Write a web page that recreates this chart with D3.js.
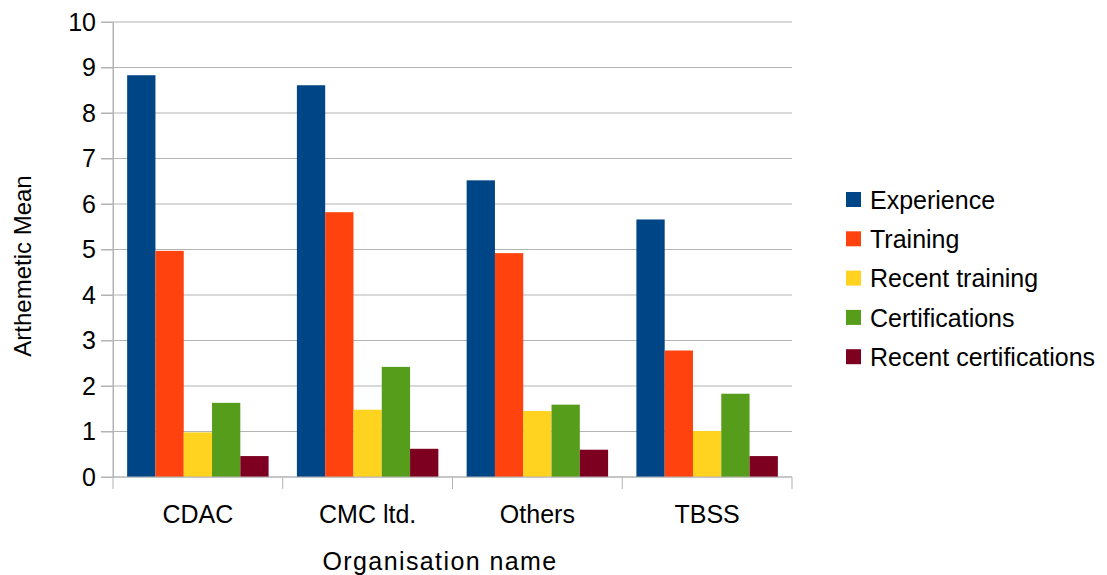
<!DOCTYPE html>
<html>
<head>
<meta charset="utf-8">
<script src="https://cdn.jsdelivr.net/npm/d3@7"></script>
<style>
  html, body { margin: 0; padding: 0; background: #fff; overflow: hidden; }
  svg { display: block; }
  text { font-family: "Liberation Sans", Arial, sans-serif; fill: #000; }
  .axis path, .axis line { stroke: #b3b3b3; }
  .grid line { stroke: #b3b3b3; }
</style>
</head>
<body>
<div id="chart"></div>
<script>
const width = 1107;
const height = 575;
const margin = { top: 22, right: 315, bottom: 98, left: 113 };
const innerWidth = width - margin.left - margin.right;
const innerHeight = height - margin.top - margin.bottom;

const organisations = ["CDAC", "CMC ltd.", "Others", "TBSS"];
const seriesNames = ["Experience", "Training", "Recent training", "Certifications", "Recent certifications"];
const seriesColors = ["#004586", "#ff420e", "#ffd320", "#579d1c", "#7e0021"];

const experience = [8.83, 8.61, 6.52, 5.66];
const training = [4.97, 5.82, 4.92, 2.78];
const recentTraining = [0.98, 1.48, 1.45, 1.01];
const certifications = [1.63, 2.42, 1.59, 1.83];
const recentCertifications = [0.46, 0.62, 0.60, 0.46];

const yTicks = d3.range(0, 11, 1);

const valuesBySeries = [experience, training, recentTraining, certifications, recentCertifications];
const data = organisations.map((org, i) => ({
  org,
  values: seriesNames.map((s, j) => ({ key: s, value: valuesBySeries[j][i] }))
}));

const svg = d3.select("#chart")
  .append("svg")
    .attr("width", width)
    .attr("height", height);

const innerChart = svg
  .append("g")
    .attr("transform", `translate(${margin.left}, ${margin.top})`);

const xScale = d3.scaleBand()
  .domain(organisations)
  .range([0, innerWidth])
  .padding(0);

const xInner = d3.scaleBand()
  .domain(seriesNames)
  .range([0, xScale.bandwidth()])
  .paddingInner(0)
  .paddingOuter(0.5);

const yScale = d3.scaleLinear()
  .domain([0, 10])
  .range([innerHeight, 0]);

const colorScale = d3.scaleOrdinal()
  .domain(seriesNames)
  .range(seriesColors);

// gridlines (they also make the left ticks)
innerChart
  .append("g")
    .attr("class", "grid")
  .selectAll("line")
  .data(yTicks)
  .join("line")
    .attr("x1", -12)
    .attr("x2", innerWidth)
    .attr("y1", d => yScale(d))
    .attr("y2", d => yScale(d));

// bars
innerChart
  .append("g")
  .selectAll("g")
  .data(data)
  .join("g")
    .attr("transform", d => `translate(${xScale(d.org)}, 0)`)
  .selectAll("rect")
  .data(d => d.values)
  .join("rect")
    .attr("x", d => xInner(d.key))
    .attr("width", xInner.bandwidth())
    .attr("y", d => yScale(d.value))
    .attr("height", d => innerHeight - yScale(d.value))
    .attr("fill", d => colorScale(d.key));

// y axis
const leftAxis = d3.axisLeft(yScale)
  .tickValues(yTicks)
  .tickSize(12)
  .tickPadding(5)
  .tickSizeOuter(0);
innerChart
  .append("g")
    .attr("class", "axis axis-y")
    .call(leftAxis)
  .selectAll("text")
    .style("font-size", "25px");

// x axis, ticks sit on the category boundaries
innerChart
  .append("g")
    .attr("class", "axis axis-x")
    .attr("transform", `translate(0, ${innerHeight})`)
    .call(d3.axisBottom(xScale).tickSize(0).tickPadding(28))
  .call(g => g.select(".domain").remove())
  .call(g => g.selectAll(".tick line").remove())
  .call(g => g.selectAll("text").style("font-size", "25px"));

const boundaries = organisations.map(o => xScale(o)).concat([innerWidth]);
innerChart
  .append("g")
    .attr("class", "axis")
  .selectAll("line")
  .data(boundaries)
  .join("line")
    .attr("x1", d => d)
    .attr("x2", d => d)
    .attr("y1", innerHeight)
    .attr("y2", innerHeight + 12);
innerChart
  .append("line")
    .attr("x1", 0).attr("x2", innerWidth)
    .attr("y1", innerHeight).attr("y2", innerHeight)
    .attr("stroke", "#b3b3b3");
innerChart
  .append("line")
    .attr("x1", 0).attr("x2", 0)
    .attr("y1", 0).attr("y2", innerHeight)
    .attr("stroke", "#b3b3b3");

// axis titles
svg
  .append("text")
    .attr("transform", "translate(31, 266) rotate(-90)")
    .attr("text-anchor", "middle")
    .style("font-size", "24px")
    .text("Arthemetic Mean");

svg
  .append("text")
    .attr("x", 440)
    .attr("y", 570)
    .attr("text-anchor", "middle")
    .style("font-size", "25px")
    .style("letter-spacing", "1.4px")
    .text("Organisation name");

// legend
const legend = svg
  .append("g")
    .attr("transform", "translate(846, 200)");
const legendItems = legend
  .selectAll("g")
  .data(seriesNames)
  .join("g")
    .attr("transform", (d, i) => `translate(0, ${i * 39.3})`);
legendItems
  .append("rect")
    .attr("x", 0)
    .attr("y", -8)
    .attr("width", 15)
    .attr("height", 15)
    .attr("fill", d => colorScale(d));
legendItems
  .append("text")
    .attr("x", 24)
    .attr("dy", "0.35em")
    .style("font-size", "25px")
    .text(d => d);
</script>
</body>
</html>
